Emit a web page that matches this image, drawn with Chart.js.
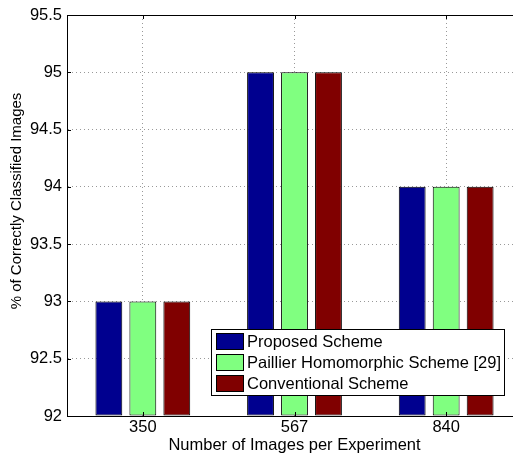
<!DOCTYPE html>
<html>
<head>
<meta charset="utf-8">
<script src="https://cdn.jsdelivr.net/npm/chart.js@4.4.0/dist/chart.umd.min.js"></script>
<style>
  html, body { margin: 0; padding: 0; overflow: hidden; background: #fff; }
  #wrap { width: 522px; height: 455px; position: relative; }
</style>
</head>
<body>
<div id="wrap"><canvas id="chart"></canvas></div>
<script>
// chart data
var categories = ['350', '567', '840'];
var seriesNames = ['Proposed Scheme', 'Paillier Homomorphic Scheme [29]', 'Conventional Scheme'];
var proposed = [93, 95, 94];
var paillier = [93, 95, 94];
var conventional = [93, 95, 94];
var seriesColors = ['#00008F', '#80FF80', '#800000'];
var yTitle = '% of Correctly Classified Images';
var xTitle = 'Number of Images per Experiment';

var fontFamily = '"Liberation Sans", Arial, sans-serif';
Chart.defaults.font.family = fontFamily;
Chart.defaults.font.size = 16.5;
Chart.defaults.color = '#000';

// box round the plot, small inner ticks, y title (MATLAB puts it a bit high), legend
var boxAndLegend = {
    id: 'boxAndLegend',
    afterDraw: function (chart) {
        var c = chart.ctx, a = chart.chartArea;
        var xs = chart.scales.x, ys = chart.scales.y;
        c.save();
        c.strokeStyle = '#000';
        c.lineWidth = 1;
        c.beginPath();
        c.moveTo(a.left, a.top + 0.5);
        c.lineTo(a.right, a.top + 0.5);
        // inner ticks
        ys.ticks.forEach(function (t, i) {
            var y = Math.round(ys.getPixelForTick(i)) + 0.5;
            c.moveTo(a.left, y);
            c.lineTo(a.left + 4, y);
        });
        xs.ticks.forEach(function (t, i) {
            var x = Math.round(xs.getPixelForTick(i)) + 0.5;
            c.moveTo(x, a.bottom);
            c.lineTo(x, a.bottom - 4);
            c.moveTo(x, a.top);
            c.lineTo(x, a.top + 4);
        });
        c.stroke();

        // y axis title
        c.save();
        c.translate(17, 201);
        c.rotate(-Math.PI / 2);
        c.font = '15px ' + fontFamily;
        c.fillStyle = '#000';
        c.textAlign = 'center';
        c.textBaseline = 'middle';
        c.fillText(yTitle, 0, 0);
        c.restore();

        // legend
        var lx = 211, ly = 329, lw = 293, lh = 66;
        c.fillStyle = '#fff';
        c.fillRect(lx, ly, lw, lh);
        c.strokeRect(lx + 0.5, ly + 0.5, lw, lh);
        c.font = '16.5px ' + fontFamily;
        c.textBaseline = 'middle';
        chart.data.datasets.forEach(function (ds, i) {
            var cy = ly + 12 + i * 21;
            c.fillStyle = ds.backgroundColor;
            c.fillRect(216, cy - 8, 27, 16);
            c.strokeStyle = '#000';
            c.strokeRect(216.5, cy - 7.5, 27, 16);
            c.fillStyle = '#000';
            c.fillText(ds.label, 247, cy + 1);
        });
        c.restore();
    }
};

var ctx = document.getElementById('chart').getContext('2d');
var chart = new Chart(ctx, {
    type: 'bar',
    data: {
        labels: categories,
        datasets: [
            { label: seriesNames[0], data: proposed, backgroundColor: seriesColors[0] },
            { label: seriesNames[1], data: paillier, backgroundColor: seriesColors[1] },
            { label: seriesNames[2], data: conventional, backgroundColor: seriesColors[2] }
        ]
    },
    options: {
        responsive: true,
        maintainAspectRatio: false,
        animation: false,
        layout: { padding: { top: 15, left: 0, right: 0, bottom: 0 } },
        datasets: {
            bar: {
                categoryPercentage: 0.672,
                barPercentage: 0.79,
                borderColor: '#000',
                borderWidth: 1,
                borderSkipped: false,
                base: 92
            }
        },
        plugins: {
            legend: { display: false },
            tooltip: { enabled: false }
        },
        scales: {
            x: {
                grid: { offset: false, drawTicks: false, color: 'rgba(0,0,0,0.4)' },
                border: { color: '#000', width: 1, dash: [1, 3] },
                ticks: { padding: 2 },
                title: {
                    display: true,
                    text: xTitle,
                    padding: { top: 0, bottom: 0 }
                },
                afterFit: function (scale) { scale.height = 39; }
            },
            y: {
                min: 92,
                max: 95.5,
                ticks: {
                    stepSize: 0.5,
                    padding: 5,
                    callback: function (v) { return String(v); }
                },
                grid: { drawTicks: false, color: 'rgba(0,0,0,0.4)' },
                border: { color: '#000', width: 1, dash: [1, 3] },
                title: { display: false },
                afterFit: function (scale) { scale.width = 67; }
            }
        }
    },
    plugins: [boxAndLegend]
});
</script>
</body>
</html>
